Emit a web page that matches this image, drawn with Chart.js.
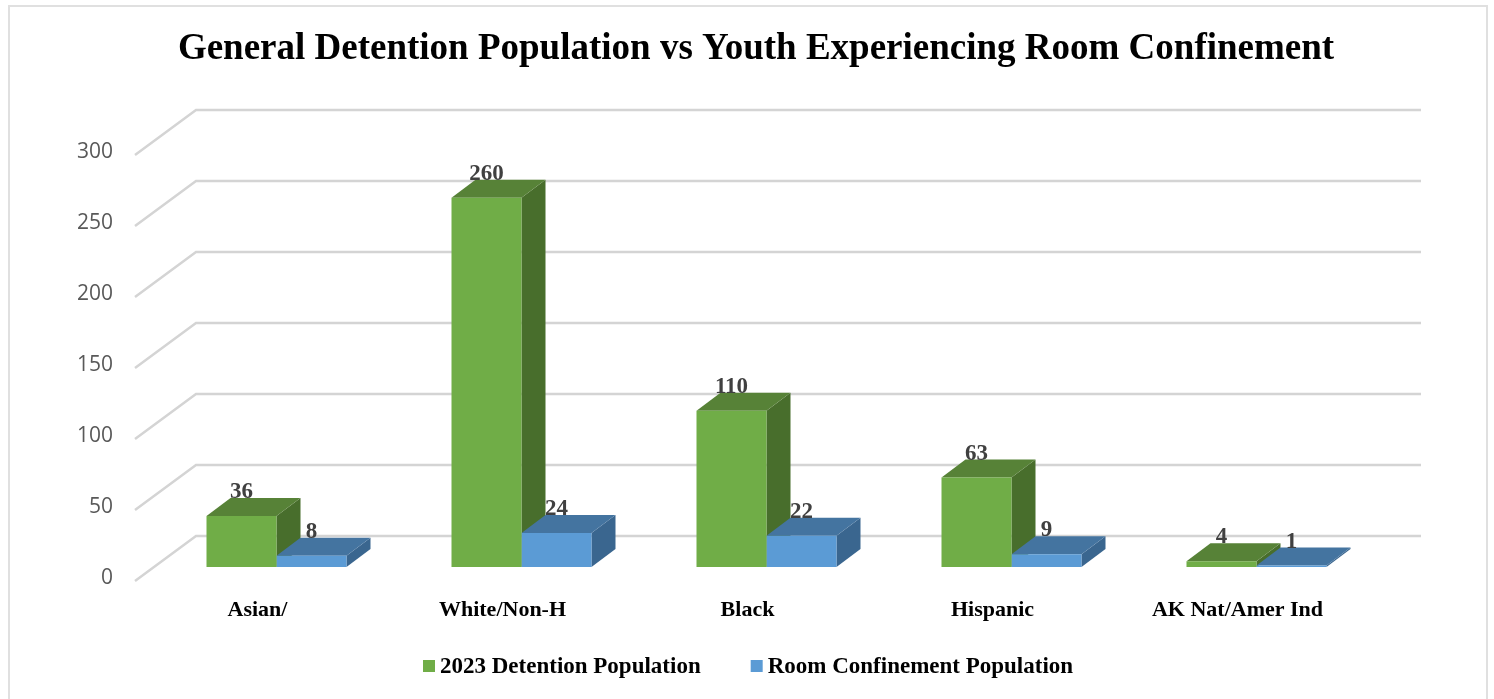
<!DOCTYPE html>
<html lang="en">
<head>
  <meta charset="UTF-8" />
  <title>General Detention Population vs Youth Experiencing Room Confinement</title>
  <script src="https://cdn.jsdelivr.net/npm/chart.js"></script>
  <style>
    html, body { margin: 0; padding: 0; background: #fff; overflow: hidden; }
    canvas { display: block; }
  </style>
</head>
<body>
<canvas id="chart" width="1494" height="699"></canvas>

<script>
  const categories = ['Asian/', 'White/Non-H', 'Black', 'Hispanic', 'AK Nat/Amer Ind'];
  const detentionPop = [36, 260, 110, 63, 4];
  const confinementPop = [8, 24, 22, 9, 1];

  const serif = '"Liberation Serif", "Times New Roman", serif';

  // fake 3D, same depth Excel gives a clustered 3-D column
  const floor = { dx: 61, dy: 45 };     // front of the floor to the back wall
  const barShift = { dx: 19, dy: 14 };  // bars sit part way into the floor
  const barDepth = { dx: 24, dy: 18 };

  function poly(ctx, pts, color) {
    ctx.fillStyle = color;
    ctx.beginPath();
    pts.forEach((p, i) => i ? ctx.lineTo(p[0], p[1]) : ctx.moveTo(p[0], p[1]));
    ctx.closePath();
    ctx.fill();
  }

  const frame3d = {
    id: 'frame3d',
    beforeDatasetsDraw(chart) {
      const { ctx, chartArea, scales } = chart;

      // outer border
      ctx.save();
      ctx.strokeStyle = '#e0e0e0';
      ctx.lineWidth = 2;
      ctx.strokeRect(9, 6, 1478, 800);

      // walls
      ctx.strokeStyle = '#d4d4d4';
      ctx.lineWidth = 2.5;
      scales.y.ticks.forEach(t => {
        const y = scales.y.getPixelForValue(t.value);
        ctx.beginPath();
        ctx.moveTo(chartArea.left, y);
        ctx.lineTo(chartArea.left + floor.dx, y - floor.dy);
        ctx.lineTo(chartArea.right + floor.dx, y - floor.dy);
        ctx.stroke();
      });
      ctx.restore();

      // shift everything the bars draw, native front faces included
      ctx.save();
      ctx.translate(barShift.dx, -barShift.dy);
      chart.data.datasets.forEach((ds, i) => {
        chart.getDatasetMeta(i).data.forEach(bar => {
          const l = bar.x - bar.width / 2, r = bar.x + bar.width / 2;
          const t = bar.y, b = bar.base;
          const dx = barDepth.dx, dy = barDepth.dy;
          poly(ctx, [[r, t], [r + dx, t - dy], [r + dx, b - dy], [r, b]], ds.sideColor);
          poly(ctx, [[l, t], [l + dx, t - dy], [r + dx, t - dy], [r, t]], ds.topColor);
        });
      });
    },
    afterDatasetsDraw(chart) {
      const { ctx } = chart;
      ctx.restore();

      // value labels
      ctx.save();
      ctx.font = 'bold 23px ' + serif;
      ctx.fillStyle = '#404040';
      ctx.textAlign = 'center';
      ctx.textBaseline = 'alphabetic';
      chart.data.datasets.forEach((ds, i) => {
        chart.getDatasetMeta(i).data.forEach((bar, j) => {
          ctx.fillText(ds.data[j], bar.x + barShift.dx, bar.y - barShift.dy - barDepth.dy);
        });
      });
      ctx.restore();

      // legend, Chart.js ties the box gap to the font size so it goes here
      ctx.save();
      ctx.font = 'bold 23px ' + serif;
      ctx.textBaseline = 'alphabetic';
      let x = 423;
      chart.data.datasets.forEach(ds => {
        ctx.fillStyle = ds.backgroundColor;
        ctx.fillRect(x, 660, 12, 12);
        ctx.fillStyle = '#000';
        ctx.fillText(ds.label, x + 17, 673);
        x += 17 + ctx.measureText(ds.label).width + 50;
      });
      ctx.restore();
    }
  };

  new Chart(document.getElementById('chart'), {
    type: 'bar',
    data: {
      labels: categories,
      datasets: [
        {
          label: '2023 Detention Population',
          data: detentionPop,
          backgroundColor: '#70ad47',
          topColor: '#578237',
          sideColor: '#486e2c'
        },
        {
          label: 'Room Confinement Population',
          data: confinementPop,
          backgroundColor: '#5b9bd5',
          topColor: '#4474a0',
          sideColor: '#3a668f'
        }
      ]
    },
    options: {
      responsive: false,
      animation: false,
      layout: { padding: { left: 18, right: 0, top: 0, bottom: 40 } },
      datasets: { bar: { categoryPercentage: 0.5714, barPercentage: 1 } },
      scales: {
        x: {
          grid: { display: false, drawTicks: false },
          border: { display: false },
          ticks: {
            autoSkip: false,
            maxRotation: 0,
            padding: 16,
            color: '#000',
            font: { family: serif, weight: 'bold', size: 22 }
          },
          afterFit(s) { s.height = 78; }
        },
        y: {
          min: 0,
          max: 300,
          grid: { display: false, drawTicks: false },
          border: { display: false },
          ticks: {
            stepSize: 50,
            padding: 22,
            labelOffset: -3,
            color: '#595959',
            font: { family: '"Open Sans", sans-serif', size: 21 }
          },
          afterFit(s) { s.width = 117; }
        },
        // empty axis, keeps the plot short of the right edge without moving the title
        spacer: {
          position: 'right',
          grid: { display: false, drawTicks: false },
          border: { display: false },
          ticks: { display: false },
          afterFit(s) { s.width = 134; }
        }
      },
      plugins: {
        legend: { display: false },
        tooltip: { enabled: false },
        title: {
          display: true,
          text: 'General Detention Population vs Youth Experiencing Room Confinement',
          color: '#000',
          font: { family: serif, weight: 'bold', size: 37, lineHeight: 1.2 },
          padding: { top: 27, bottom: 83.6 }
        }
      }
    },
    plugins: [frame3d]
  });
</script>
</body>
</html>
